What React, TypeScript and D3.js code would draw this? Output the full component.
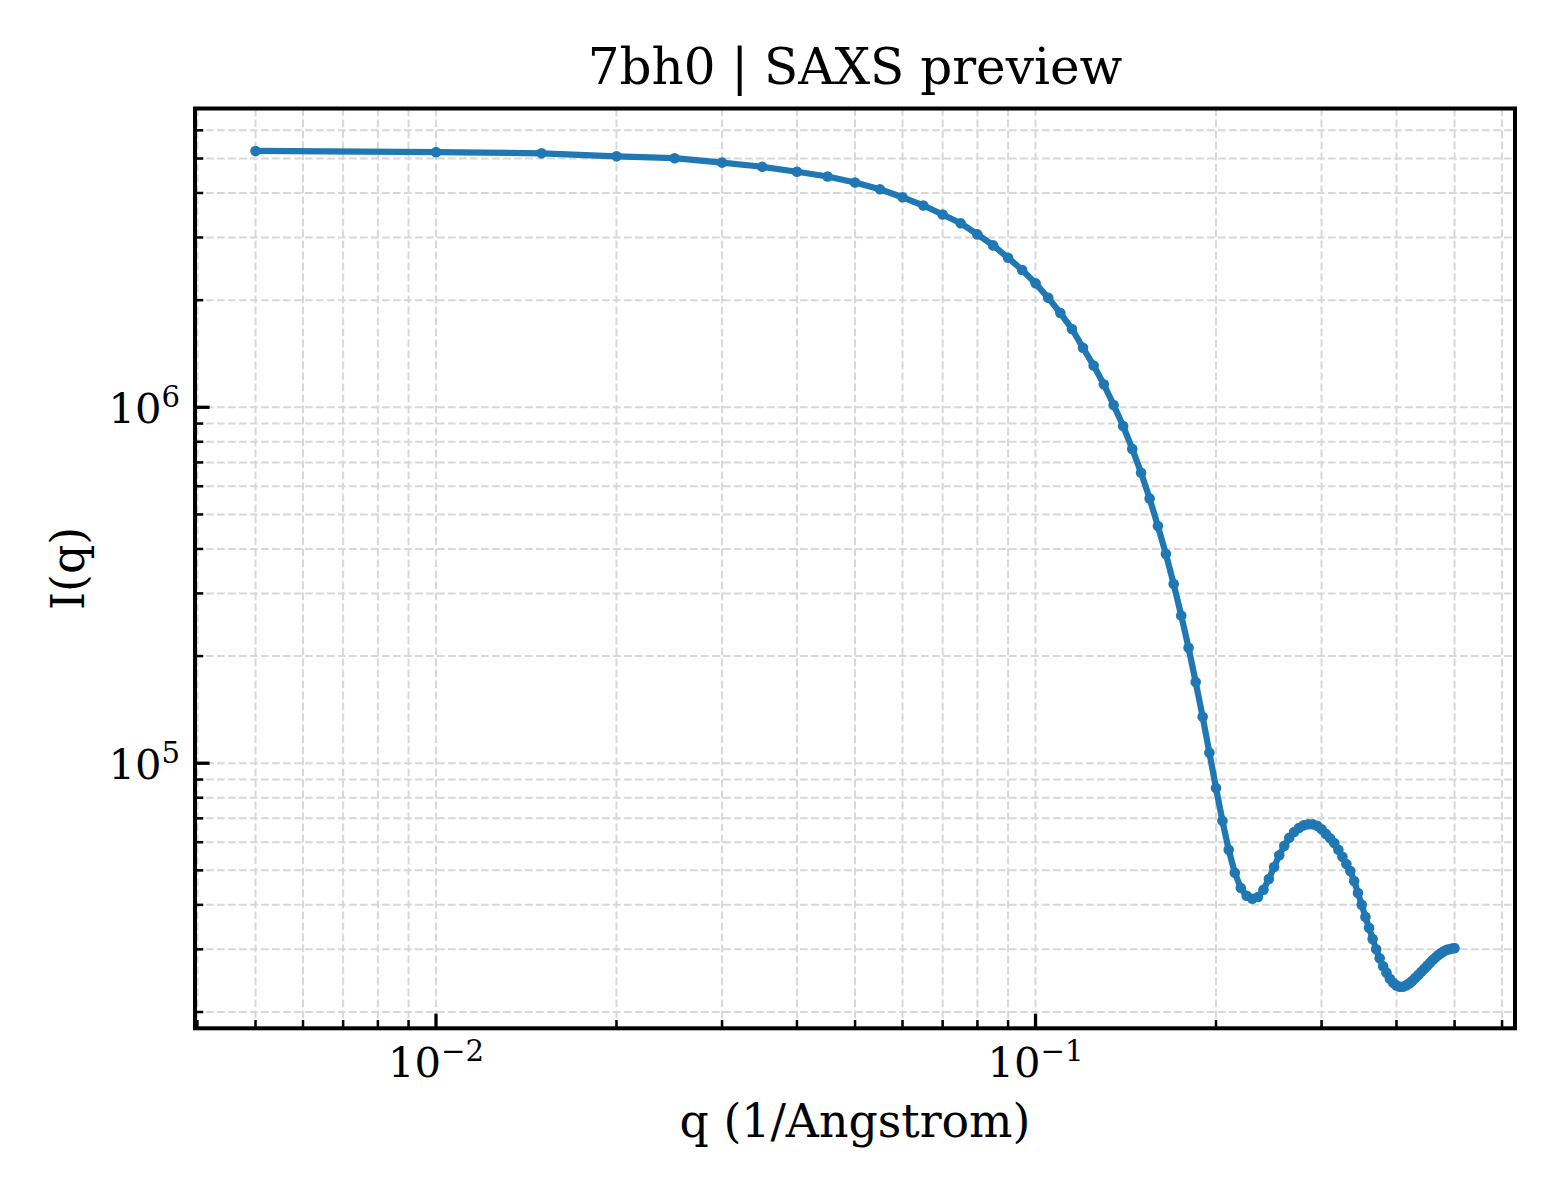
import React from 'react';
import * as d3 from 'd3';

// q (1/Angstrom)
const qValues = [
  0.005, 0.010, 0.015, 0.020, 0.025, 0.030, 0.035, 0.040, 0.045, 0.050,
  0.055, 0.060, 0.065, 0.070, 0.075, 0.080, 0.085, 0.090, 0.095, 0.100,
  0.105, 0.110, 0.115, 0.120, 0.125, 0.130, 0.135, 0.140, 0.145, 0.150,
  0.155, 0.160, 0.165, 0.170, 0.175, 0.180, 0.185, 0.190, 0.195, 0.200,
  0.205, 0.210, 0.215, 0.220, 0.225, 0.230, 0.235, 0.240, 0.245, 0.250,
  0.255, 0.260, 0.265, 0.270, 0.275, 0.280, 0.285, 0.290, 0.295, 0.300,
  0.305, 0.310, 0.315, 0.320, 0.325, 0.330, 0.335, 0.340, 0.345, 0.350,
  0.355, 0.360, 0.365, 0.370, 0.375, 0.380, 0.385, 0.390, 0.395, 0.400,
  0.405, 0.410, 0.415, 0.420, 0.425, 0.430, 0.435, 0.440, 0.445, 0.450,
  0.455, 0.460, 0.465, 0.470, 0.475, 0.480, 0.485, 0.490, 0.495, 0.500,
];

// I(q)
const intensity = [
  5.25e6, 5.21e6, 5.17e6, 5.07e6, 5.01e6, 4.87e6, 4.74e6, 4.59e6, 4.45e6, 4.28e6,
  4.10e6, 3.89e6, 3.69e6, 3.48e6, 3.29e6, 3.06e6, 2.85e6, 2.63e6, 2.43e6, 2.23e6,
  2.03e6, 1.84e6, 1.66e6, 1.47e6, 1.31e6, 1.16e6, 1.015e6, 8.86e5, 7.64e5, 6.55e5,
  5.54e5, 4.64e5, 3.87e5, 3.19e5, 2.60e5, 2.11e5, 1.69e5, 1.35e5, 1.07e5, 8.52e4,
  6.89e4, 5.71e4, 4.92e4, 4.46e4, 4.24e4, 4.16e4, 4.21e4, 4.41e4, 4.73e4, 5.11e4,
  5.51e4, 5.86e4, 6.17e4, 6.41e4, 6.58e4, 6.69e4, 6.74e4, 6.74e4, 6.67e4, 6.52e4,
  6.33e4, 6.15e4, 5.97e4, 5.71e4, 5.46e4, 5.21e4, 4.98e4, 4.67e4, 4.32e4, 4.00e4,
  3.70e4, 3.45e4, 3.21e4, 3.00e4, 2.83e4, 2.69e4, 2.58e4, 2.48e4, 2.415e4, 2.376e4,
  2.356e4, 2.356e4, 2.376e4, 2.407e4, 2.446e4, 2.494e4, 2.543e4, 2.593e4, 2.644e4, 2.696e4,
  2.749e4, 2.803e4, 2.848e4, 2.894e4, 2.932e4, 2.961e4, 2.990e4, 3.003e4, 3.015e4, 3.023e4,
];

const xMajorTicks = [0.01, 0.1];
const xTickExponents = ['\u22122', '\u22121'];
const yMajorTicks = [1e5, 1e6];
const yTickExponents = ['5', '6'];
const xDomain = [0.003963, 0.6306];
const yDomain = [1.80e4, 6.91e6];

const title = '7bh0 | SAXS preview';
const xLabel = 'q (1/Angstrom)';
const yLabel = 'I(q)';

const W = 1560;
const H = 1200;
const P = { left: 195, right: 1515, top: 108.5, bottom: 1028.3 };
const BLUE = '#1f77b4';
const FONT = "'DejaVu Serif', serif";

const isMajor = (t: number) => Math.abs(Math.log10(t) - Math.round(Math.log10(t))) < 1e-9;

export default function App() {
  const x = d3.scaleLog().domain(xDomain).range([P.left, P.right]);
  const y = d3.scaleLog().domain(yDomain).range([P.bottom, P.top]);
  const pts: [number, number][] = qValues.map((q, i) => [q, intensity[i]]);
  const line = d3.line<[number, number]>().x((d) => x(d[0])).y((d) => y(d[1]));

  const xTicksAll = x.ticks();
  const yTicksAll = y.ticks();
  const xMinor = xTicksAll.filter((t) => !isMajor(t));
  const yMinor = yTicksAll.filter((t) => !isMajor(t));

  const gridStyle = { stroke: '#d8d8d8', strokeWidth: 2, strokeDasharray: '7.7 3.3' };

  return (
    <svg
      width={W}
      height={H}
      viewBox={`0 0 ${W} ${H}`}
      style={{ position: 'absolute', left: 0, top: 0, background: '#fff' }}
      fontFamily={FONT}
    >
      <rect x={0} y={0} width={W} height={H} fill="#fff" />
      {/* grid */}
      <g>
        {xTicksAll.map((t, i) => (
          <line key={'gx' + i} x1={x(t)} x2={x(t)} y1={P.top} y2={P.bottom} {...gridStyle} />
        ))}
        {yTicksAll.map((t, i) => (
          <line key={'gy' + i} x1={P.left} x2={P.right} y1={y(t)} y2={y(t)} {...gridStyle} />
        ))}
      </g>
      {/* data */}
      <path d={line(pts) || ''} fill="none" stroke={BLUE} strokeWidth={6.25} strokeLinejoin="round" />
      {pts.map((d, i) => (
        <circle key={'p' + i} cx={x(d[0])} cy={y(d[1])} r={5.3} fill={BLUE} />
      ))}
      {/* ticks */}
      <g stroke="#000">
        {xMajorTicks.map((t, i) => (
          <line key={'xM' + i} x1={x(t)} x2={x(t)} y1={P.bottom} y2={P.bottom - 14.6} strokeWidth={3.3} />
        ))}
        {xMinor.map((t, i) => (
          <line key={'xm' + i} x1={x(t)} x2={x(t)} y1={P.bottom} y2={P.bottom - 8.3} strokeWidth={2.5} />
        ))}
        {yMajorTicks.map((t, i) => (
          <line key={'yM' + i} x1={P.left} x2={P.left + 14.6} y1={y(t)} y2={y(t)} strokeWidth={3.3} />
        ))}
        {yMinor.map((t, i) => (
          <line key={'ym' + i} x1={P.left} x2={P.left + 8.3} y1={y(t)} y2={y(t)} strokeWidth={2.5} />
        ))}
      </g>
      {/* spines */}
      <rect
        x={P.left}
        y={P.top}
        width={P.right - P.left}
        height={P.bottom - P.top}
        fill="none"
        stroke="#000"
        strokeWidth={4}
      />
      {/* tick labels */}
      {xMajorTicks.map((t, i) => (
        <text key={'xl' + i} x={x(t)} y={1077} textAnchor="middle" fontSize={41.7} fill="#000">
          10
          <tspan fontSize={29.2} dy={-16}>{xTickExponents[i]}</tspan>
        </text>
      ))}
      {yMajorTicks.map((t, i) => (
        <text key={'yl' + i} x={180} y={y(t) + 15.5} textAnchor="end" fontSize={41.7} fill="#000">
          10
          <tspan fontSize={29.2} dy={-16}>{yTickExponents[i]}</tspan>
        </text>
      ))}
      {/* labels */}
      <text x={(P.left + P.right) / 2} y={83.5} textAnchor="middle" fontSize={50} fill="#000">
        {title}
      </text>
      <text x={(P.left + P.right) / 2} y={1137} textAnchor="middle" fontSize={45.8} fill="#000">
        {xLabel}
      </text>
      <text
        transform={`translate(84, ${(P.top + P.bottom) / 2}) rotate(-90)`}
        textAnchor="middle"
        fontSize={45.8}
        fill="#000"
      >
        {yLabel}
      </text>
    </svg>
  );
}
